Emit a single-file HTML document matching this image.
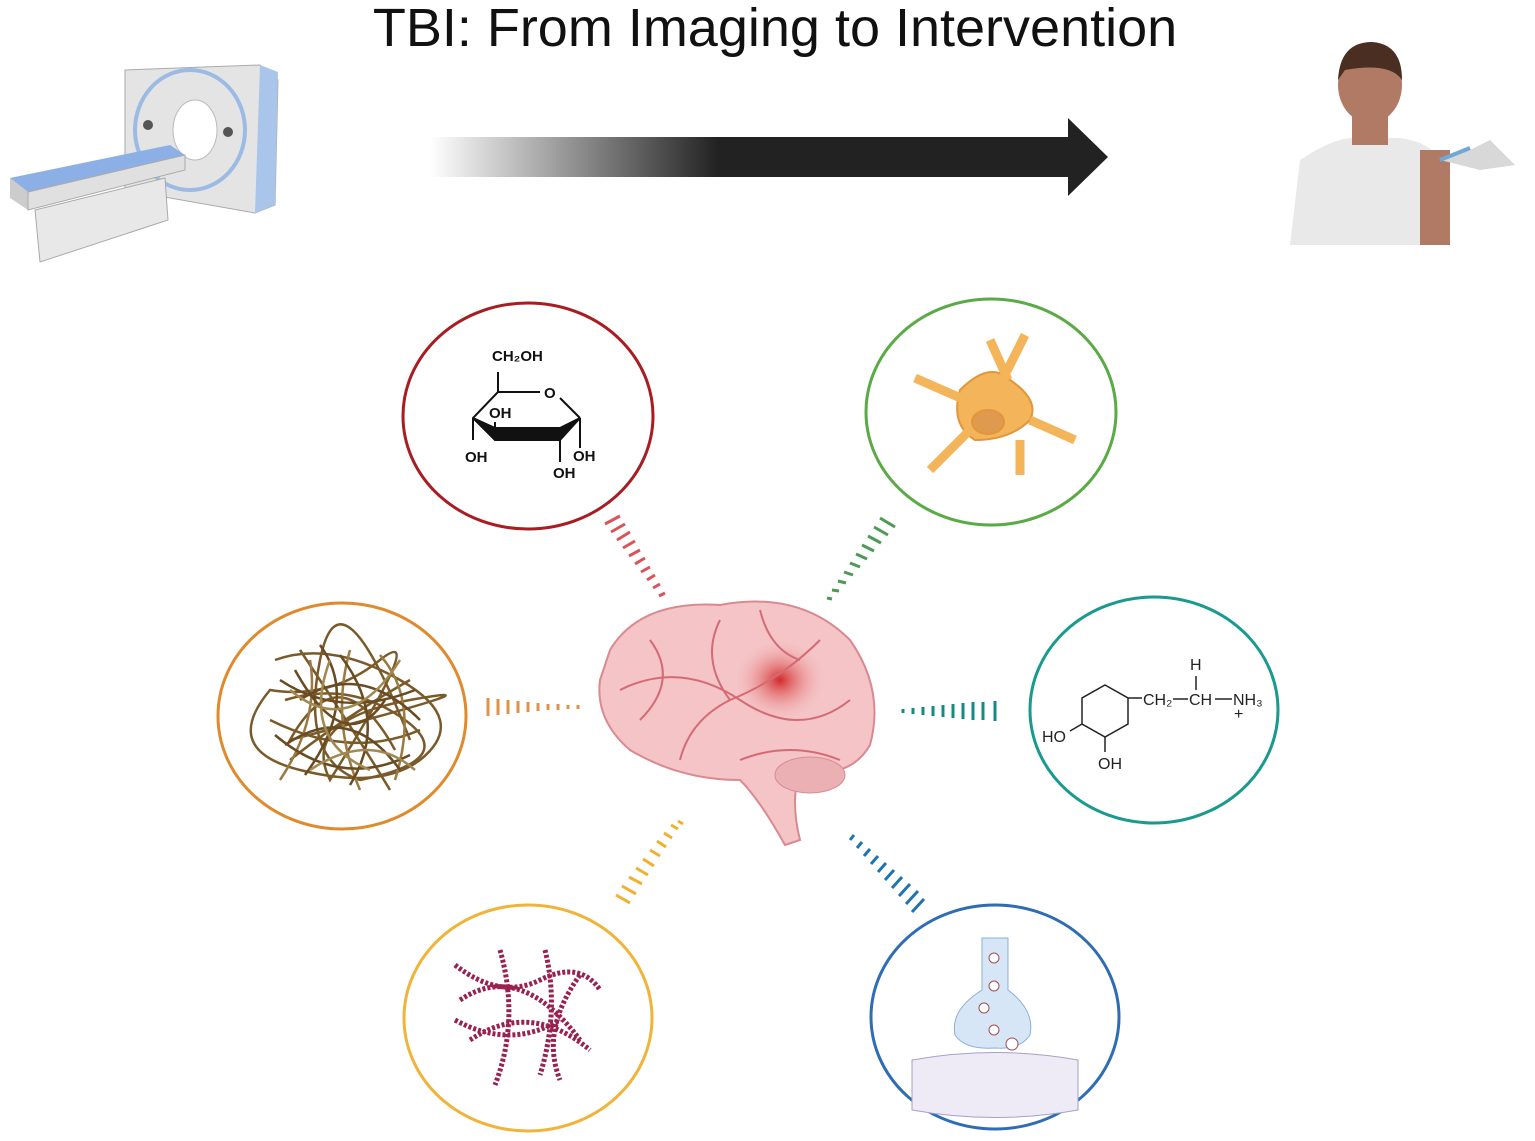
<!DOCTYPE html>
<html><head><meta charset="utf-8"><style>
html,body{margin:0;padding:0;background:#fff;}
svg{display:block;}
</style></head><body>
<svg width="1535" height="1141" viewBox="0 0 1535 1141" xmlns="http://www.w3.org/2000/svg">
<defs>
<linearGradient id="ag" x1="430" y1="0" x2="1070" y2="0" gradientUnits="userSpaceOnUse">
<stop offset="0" stop-color="#fff"/><stop offset="0.45" stop-color="#222"/><stop offset="1" stop-color="#222"/>
</linearGradient>
<radialGradient id="spot" cx="0.5" cy="0.5" r="0.5"><stop offset="0" stop-color="#d42a2a"/><stop offset="1" stop-color="#f3b5b8" stop-opacity="0"/></radialGradient>
</defs>
<text x="775" y="46" text-anchor="middle" font-family="Liberation Sans, sans-serif" font-size="54" fill="#111">TBI: From Imaging to Intervention</text>
<rect x="430" y="137" width="640" height="40" fill="url(#ag)"/>
<polygon points="1068,118 1108,157 1068,196" fill="#222"/>

<!-- CT scanner -->
<g>
<polygon points="125,70 260,65 278,80 275,205 255,213 125,190" fill="#e4e4e4" stroke="#aaa"/>
<polygon points="260,65 278,72 275,205 255,213" fill="#a9c6ea"/>
<ellipse cx="190" cy="130" rx="55" ry="60" fill="none" stroke="#9bbbe5" stroke-width="4"/>
<ellipse cx="195" cy="130" rx="22" ry="30" fill="#fff" stroke="#bbb"/>
<circle cx="148" cy="125" r="5" fill="#555"/><circle cx="228" cy="132" r="5" fill="#555"/>
<polygon points="10,178 170,145 185,155 28,192" fill="#8cb0e6"/>
<polygon points="10,178 28,192 28,210 10,198" fill="#ccc"/>
<polygon points="28,192 185,155 185,170 28,210" fill="#e0e0e0" stroke="#aaa"/>
<polygon points="35,210 165,178 168,220 40,262" fill="#e8e8e8" stroke="#aaa"/>
</g>

<!-- Person -->
<g>
<path d="M1290,245 L1300,160 Q1330,140 1350,138 L1400,138 Q1430,142 1440,160 L1450,245 Z" fill="#e9e9e9"/>
<rect x="1420" y="150" width="30" height="95" fill="#b07a64"/>
<rect x="1352" y="105" width="36" height="40" fill="#b07a64"/>
<ellipse cx="1370" cy="85" rx="32" ry="38" fill="#b07a64"/>
<path d="M1338,80 Q1340,42 1372,42 Q1402,44 1402,80 Q1390,62 1345,70 Z" fill="#4a2e22"/>
<path d="M1440,160 L1470,150 L1490,140 L1515,165 L1480,170 Z" fill="#d8d8d8"/>
<line x1="1440" y1="160" x2="1470" y2="148" stroke="#6fa8d8" stroke-width="4"/>
</g>

<!-- circles -->
<g fill="none" stroke-width="3">
<ellipse cx="528" cy="416" rx="125" ry="113" stroke="#a81c22"/>
<ellipse cx="991" cy="412" rx="125" ry="113" stroke="#5aaa46"/>
<ellipse cx="342" cy="716" rx="124" ry="113" stroke="#e08a2e"/>
<ellipse cx="1154" cy="710" rx="124" ry="113" stroke="#1a9a8e"/>
<ellipse cx="528" cy="1018" rx="124" ry="113" stroke="#f0b43a"/>
<ellipse cx="995" cy="1017" rx="124" ry="112" stroke="#2e6db5"/>
</g>

<!-- glucose -->
<g stroke="#111" stroke-width="2" fill="none">
<polyline points="498,372 498,392 473,418 473,440"/>
<line x1="498" y1="392" x2="540" y2="392"/>
<line x1="560" y1="398" x2="580" y2="418"/>
<line x1="580" y1="418" x2="580" y2="448"/>
<polygon points="473,418 495,440 560,440 580,418 560,428 495,428" fill="#111"/>
<line x1="495" y1="440" x2="495" y2="422"/>
<line x1="560" y1="440" x2="560" y2="462"/>
</g>
<g font-family="Liberation Sans, sans-serif" font-size="15" font-weight="bold" fill="#111">
<text x="492" y="361">CH₂OH</text><text x="544" y="398">O</text><text x="489" y="418">OH</text>
<text x="465" y="462">OH</text><text x="573" y="461">OH</text><text x="553" y="478">OH</text>
</g>

<!-- astrocyte -->
<g fill="#f3b45a" stroke="#e2963a" stroke-width="2">
<path d="M960,390 Q990,360 1010,380 Q1040,400 1030,420 Q1010,440 975,440 Q950,425 960,390 Z"/>
<path d="M965,400 L915,378 M970,430 L930,470 M1005,375 L1025,335 M1020,440 L1020,475 M1030,420 L1075,440 M1008,380 L990,340" stroke="#f3b45a" stroke-width="9" fill="none"/>
<ellipse cx="988" cy="422" rx="16" ry="12" fill="#e09a50"/>
</g>

<!-- tangle -->
<g fill="none" stroke="#7a5a28" stroke-width="2.5">
<path d="M275,660 Q330,640 400,680 T420,760 Q380,790 300,770 T270,690 Q330,700 380,660 T330,780 Q300,720 410,700 T290,740 Q340,650 395,750"/>
<path d="M285,700 Q350,680 405,720 T360,780 Q300,760 320,660 T410,740 M290,760 Q340,720 410,680 M300,650 Q360,740 390,790 M270,720 Q350,760 420,730"/>
<path d="M310,660 Q320,720 280,780 M350,650 Q330,720 360,790 M380,655 Q420,700 395,780" stroke="#9a7a40"/>
<path d="M280,680 Q340,720 415,690 M285,745 Q350,700 400,770 M320,645 Q360,700 305,775 M340,655 Q390,720 350,785 M300,700 Q360,660 420,720 M275,735 Q340,790 410,755 M295,670 Q345,760 385,700" stroke="#6a4a20"/>
<path d="M290,690 Q350,740 400,660 M310,770 Q370,730 415,770 M330,660 Q300,740 370,770" stroke="#a08850"/>
</g>

<!-- fibrils -->
<g fill="none" stroke="#9a2050" stroke-width="5" stroke-dasharray="3 2">
<path d="M455,965 Q500,1000 540,980 T600,990 M460,1000 Q520,960 580,1040 M470,1040 Q530,1000 590,1050 M500,950 Q520,1020 495,1085 M545,950 Q560,1010 540,1075 M580,975 Q540,1030 560,1080 M455,1020 Q510,1050 560,1020"/>
</g>

<!-- dopamine -->
<g stroke="#222" stroke-width="1.5" fill="none">
<polygon points="1105,685 1128,698 1128,724 1105,737 1082,724 1082,698"/>
<line x1="1128" y1="698" x2="1142" y2="698"/><line x1="1082" y1="724" x2="1070" y2="731"/>
<line x1="1105" y1="737" x2="1105" y2="752"/><line x1="1196" y1="676" x2="1196" y2="690"/>
<line x1="1173" y1="699" x2="1188" y2="699"/><line x1="1215" y1="699" x2="1232" y2="699"/>
</g>
<g font-family="Liberation Sans, sans-serif" font-size="16" fill="#222">
<text x="1143" y="705">CH₂</text><text x="1189" y="705">CH</text><text x="1190" y="670">H</text>
<text x="1233" y="705">NH₃</text><text x="1234" y="719">+</text>
<text x="1042" y="742">HO</text><text x="1098" y="769">OH</text>
</g>

<!-- synapse -->
<g>
<path d="M912,1060 Q995,1045 1078,1060 L1078,1110 Q995,1125 912,1110 Z" fill="#eeeaf6" stroke="#a7a0c8"/>
<path d="M982,938 L1008,938 L1008,990 Q1035,1010 1030,1035 Q1020,1050 995,1048 Q965,1050 955,1035 Q950,1010 982,990 Z" fill="#d6e6f6" stroke="#8ab0d8"/>
<g fill="#fff" stroke="#a05050"><circle cx="994" cy="958" r="5"/><circle cx="994" cy="986" r="5"/><circle cx="984" cy="1008" r="5"/><circle cx="994" cy="1030" r="5"/><circle cx="1012" cy="1044" r="6"/></g>
</g>

<!-- brain -->
<g>
<path d="M610,650 Q640,600 720,605 Q800,590 850,640 Q885,690 870,745 Q850,780 800,770 Q790,800 800,840 L785,845 Q760,800 740,780 Q680,780 630,750 Q595,720 600,680 Z" fill="#f4c4c6" stroke="#d98a90" stroke-width="2"/>
<ellipse cx="780" cy="680" rx="45" ry="40" fill="url(#spot)"/>
<g fill="none" stroke="#d56a74" stroke-width="2">
<path d="M620,690 Q680,660 740,700 T850,700"/><path d="M680,760 Q690,720 730,700 Q780,680 820,640"/>
<path d="M650,640 Q680,680 640,720"/><path d="M720,620 Q700,660 730,700"/><path d="M760,610 Q770,650 800,660"/>
<path d="M740,760 Q790,740 840,760"/>
</g>
<ellipse cx="810" cy="775" rx="35" ry="18" fill="#eab0b4" stroke="#d98a90"/>
</g>

<!-- dashed connectors -->
<g stroke-width="3">
<g stroke="#d8545a">
<line x1="605" y1="524" x2="620" y2="516"/><line x1="611" y1="532" x2="625" y2="524"/><line x1="617" y1="540" x2="630" y2="532"/><line x1="623" y1="548" x2="635" y2="541"/><line x1="629" y1="556" x2="640" y2="550"/><line x1="635" y1="564" x2="645" y2="558"/><line x1="641" y1="572" x2="650" y2="567"/><line x1="647" y1="580" x2="655" y2="575"/><line x1="653" y1="588" x2="660" y2="584"/><line x1="659" y1="596" x2="665" y2="593"/>
</g>
<g stroke="#4d9a55">
<line x1="880" y1="518" x2="895" y2="527"/><line x1="874" y1="527" x2="888" y2="535"/><line x1="868" y1="536" x2="881" y2="543"/><line x1="862" y1="545" x2="874" y2="551"/><line x1="856" y1="554" x2="867" y2="559"/><line x1="850" y1="563" x2="860" y2="567"/><line x1="844" y1="572" x2="853" y2="575"/><line x1="838" y1="581" x2="846" y2="583"/><line x1="832" y1="590" x2="839" y2="591"/><line x1="827" y1="598" x2="832" y2="599"/>
</g>
<g stroke="#e0924a">
<line x1="488" y1="698" x2="488" y2="716"/><line x1="498" y1="699" x2="498" y2="715"/><line x1="508" y1="700" x2="508" y2="714"/><line x1="518" y1="701" x2="518" y2="713"/><line x1="528" y1="702" x2="528" y2="712"/><line x1="538" y1="703" x2="538" y2="711"/><line x1="548" y1="704" x2="548" y2="710"/><line x1="558" y1="704" x2="558" y2="710"/><line x1="568" y1="705" x2="568" y2="709"/><line x1="578" y1="705" x2="578" y2="709"/>
</g>
<g stroke="#138a82">
<line x1="903" y1="709" x2="903" y2="713"/><line x1="913" y1="708" x2="913" y2="714"/><line x1="923" y1="707" x2="923" y2="715"/><line x1="933" y1="706" x2="933" y2="716"/><line x1="943" y1="705" x2="943" y2="717"/><line x1="953" y1="704" x2="953" y2="718"/><line x1="963" y1="703" x2="963" y2="719"/><line x1="973" y1="702" x2="973" y2="720"/><line x1="983" y1="702" x2="983" y2="720"/><line x1="995" y1="701" x2="995" y2="721"/>
</g>
<g stroke="#f0b030">
<line x1="616" y1="895" x2="630" y2="903"/><line x1="622" y1="886" x2="636" y2="894"/><line x1="629" y1="877" x2="642" y2="884"/><line x1="636" y1="868" x2="648" y2="875"/><line x1="643" y1="859" x2="654" y2="866"/><line x1="650" y1="850" x2="660" y2="856"/><line x1="657" y1="841" x2="666" y2="847"/><line x1="664" y1="833" x2="672" y2="838"/><line x1="671" y1="825" x2="678" y2="829"/><line x1="678" y1="821" x2="683" y2="824"/>
</g>
<g stroke="#1e73b0">
<line x1="850" y1="840" x2="854" y2="835"/><line x1="857" y1="848" x2="862" y2="842"/><line x1="864" y1="856" x2="870" y2="849"/><line x1="871" y1="864" x2="878" y2="856"/><line x1="878" y1="872" x2="886" y2="863"/><line x1="885" y1="880" x2="894" y2="870"/><line x1="892" y1="888" x2="902" y2="877"/><line x1="899" y1="896" x2="910" y2="884"/><line x1="906" y1="904" x2="918" y2="891"/><line x1="912" y1="912" x2="924" y2="899"/>
</g>
</g>
</svg>
</body></html>
